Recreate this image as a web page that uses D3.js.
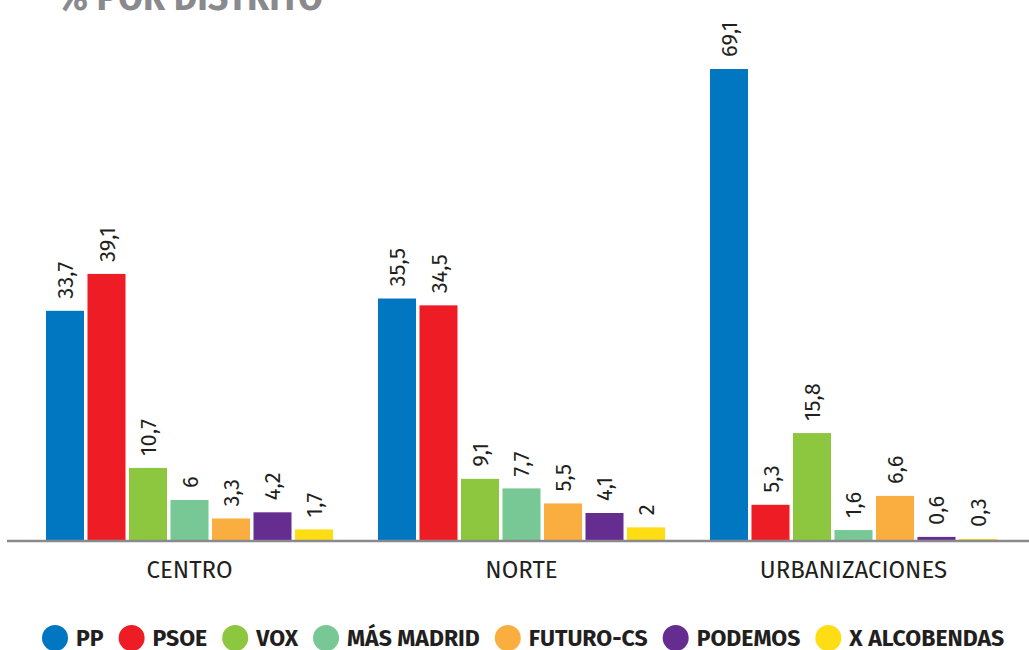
<!DOCTYPE html>
<html>
<head>
<meta charset="utf-8">
<script src="https://cdn.jsdelivr.net/npm/d3@7"></script>
<style>
  body { margin: 0; background: #fff; }
  svg { display: block; font-family: 'Fira Sans', 'Open Sans', sans-serif; }
</style>
</head>
<body>
<svg id="chart" width="1029" height="650"></svg>
<script>
const districts = ['CENTRO', 'NORTE', 'URBANIZACIONES']
const parties = ['PP', 'PSOE', 'VOX', 'MÁS MADRID', 'FUTURO-CS', 'PODEMOS', 'X ALCOBENDAS']
const colors = ['#0077c0', '#ee1c25', '#8dc63f', '#77c895', '#fbae40', '#662d91', '#ffdd14']
const centro = [33.7, 39.1, 10.7, 6, 3.3, 4.2, 1.7]
const norte = [35.5, 34.5, 9.1, 7.7, 5.5, 4.1, 2]
const urbanizaciones = [69.1, 5.3, 15.8, 1.6, 6.6, 0.6, 0.3]
const values = [centro, norte, urbanizaciones]

const svg = d3.select('#chart')
const baseY = 541
const groupW = 287

const x0 = d3.scaleBand().domain(districts).range([46, 1000]).paddingInner(0.1265).paddingOuter(0)
const x1 = d3.scaleBand().domain(parties).range([0, groupW]).paddingInner(0.084)
const y = d3.scaleLinear().domain([0, 69.1]).range([baseY, 69])

// title (cut off at the top)
svg.append('text')
  .attr('x', 57).attr('y', 10)
  .attr('textLength', 266)
  .attr('lengthAdjust', 'spacingAndGlyphs')
  .style('font-size', '38px').style('font-weight', 'bold')
  .attr('fill', '#8a8a8e')
  .text('% POR DISTRITO')

const groups = svg.selectAll('.group')
  .data(districts)
  .enter().append('g')
  .attr('class', 'group')
  .attr('transform', d => 'translate(' + x0(d) + ',0)')

groups.each(function (d, i) {
  const g = d3.select(this)
  const rows = values[i].map((v, j) => ({ party: parties[j], value: v, color: colors[j] }))

  g.selectAll('rect')
    .data(rows)
    .enter().append('rect')
    .attr('x', r => x1(r.party))
    .attr('y', r => y(r.value))
    .attr('width', x1.bandwidth())
    .attr('height', r => baseY - y(r.value))
    .attr('fill', r => r.color)

  g.selectAll('.val')
    .data(rows)
    .enter().append('text')
    .attr('class', 'val')
    .attr('transform', r => 'translate(' + (x1(r.party) + x1.bandwidth() / 2 + 8) + ',' + (y(r.value) - 12) + ') rotate(-90)')
    .style('font-size', '22px')
    .attr('fill', '#231f20')
    .text(r => String(r.value).replace('.', ','))

  g.append('text')
    .attr('x', groupW / 2)
    .attr('y', 578)
    .attr('text-anchor', 'middle')
    .style('font-size', '24px')
    .attr('fill', '#231f20')
    .text(d)
})

// baseline
svg.append('line')
  .attr('x1', 7).attr('x2', 1029)
  .attr('y1', baseY).attr('y2', baseY)
  .attr('stroke', '#8a8a8e').attr('stroke-width', 2.5)

// legend
const legend = svg.append('g')
let lx = 42
parties.forEach((p, i) => {
  legend.append('circle')
    .attr('cx', lx + 13).attr('cy', 638).attr('r', 13)
    .attr('fill', colors[i])
  const t = legend.append('text')
    .attr('x', lx + 34).attr('y', 646)
    .style('font-size', '23px').style('font-weight', 'bold')
    .attr('fill', '#231f20')
    .text(p)
  lx += 34 + t.node().getComputedTextLength() + 15
})
</script>
</body>
</html>
